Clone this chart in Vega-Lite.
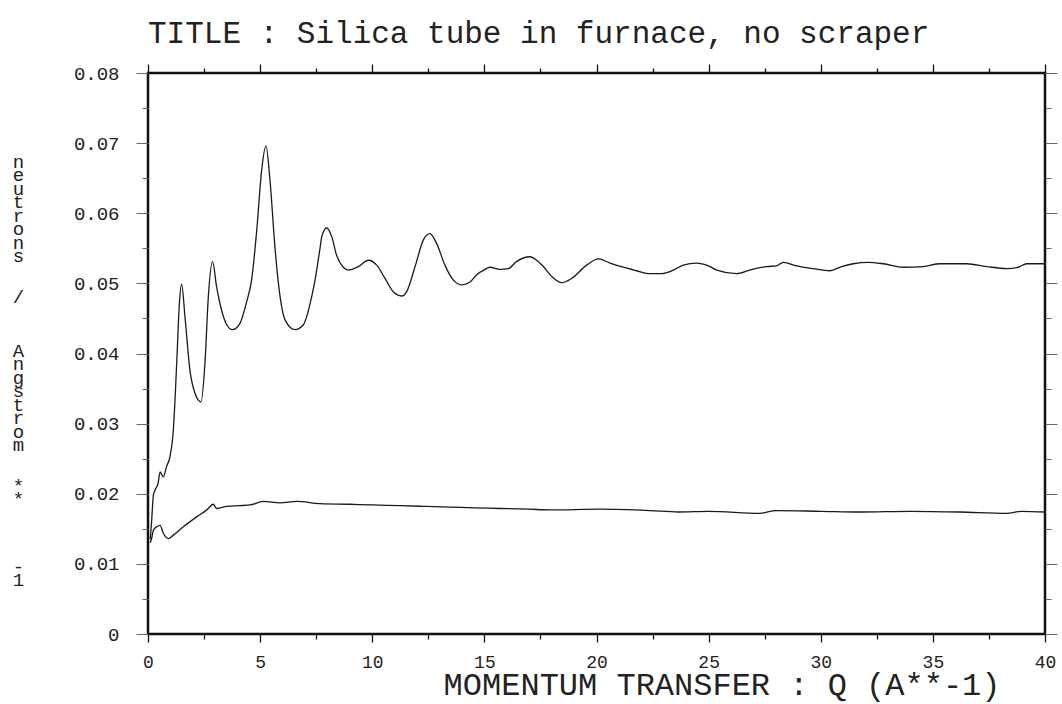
{
  "$schema": "https://vega.github.io/schema/vega-lite/v6.json",
  "width": 897,
  "height": 561,
  "autosize": {"type": "none"},
  "padding": {"left": 148, "top": 73, "right": 17, "bottom": 70},
  "background": "white",
  "config": {
    "view": {"stroke": "#111", "strokeWidth": 2.5},
    "font": "Liberation Mono"
  },
  "title": {
    "text": "TITLE : Silica tube in furnace, no scraper",
    "anchor": "start",
    "frame": "group",
    "font": "Liberation Mono",
    "fontSize": 31,
    "fontWeight": "normal",
    "color": "#222",
    "baseline": "alphabetic",
    "offset": 0,
    "dy": 11
  },
  "data": {
    "values": [
      {"series": "sample", "q": 0.10, "v": 0.0135},
      {"series": "sample", "q": 0.16, "v": 0.0160},
      {"series": "sample", "q": 0.24, "v": 0.0198},
      {"series": "sample", "q": 0.31, "v": 0.0205},
      {"series": "sample", "q": 0.45, "v": 0.0215},
      {"series": "sample", "q": 0.54, "v": 0.0231},
      {"series": "sample", "q": 0.68, "v": 0.0224},
      {"series": "sample", "q": 0.83, "v": 0.0239},
      {"series": "sample", "q": 0.98, "v": 0.0253},
      {"series": "sample", "q": 1.13, "v": 0.0291},
      {"series": "sample", "q": 1.28, "v": 0.0386},
      {"series": "sample", "q": 1.40, "v": 0.0472},
      {"series": "sample", "q": 1.50, "v": 0.0499},
      {"series": "sample", "q": 1.65, "v": 0.0452},
      {"series": "sample", "q": 1.87, "v": 0.0376},
      {"series": "sample", "q": 2.10, "v": 0.0343},
      {"series": "sample", "q": 2.36, "v": 0.0331},
      {"series": "sample", "q": 2.54, "v": 0.0386},
      {"series": "sample", "q": 2.69, "v": 0.0481},
      {"series": "sample", "q": 2.88, "v": 0.0531},
      {"series": "sample", "q": 3.06, "v": 0.0495},
      {"series": "sample", "q": 3.28, "v": 0.0462},
      {"series": "sample", "q": 3.51, "v": 0.0441},
      {"series": "sample", "q": 3.77, "v": 0.0434},
      {"series": "sample", "q": 4.10, "v": 0.0443},
      {"series": "sample", "q": 4.40, "v": 0.0474},
      {"series": "sample", "q": 4.62, "v": 0.0505},
      {"series": "sample", "q": 4.85, "v": 0.0576},
      {"series": "sample", "q": 5.07, "v": 0.0662},
      {"series": "sample", "q": 5.26, "v": 0.0696},
      {"series": "sample", "q": 5.44, "v": 0.0647},
      {"series": "sample", "q": 5.66, "v": 0.0552},
      {"series": "sample", "q": 5.89, "v": 0.0481},
      {"series": "sample", "q": 6.11, "v": 0.0448},
      {"series": "sample", "q": 6.56, "v": 0.0434},
      {"series": "sample", "q": 6.93, "v": 0.0441},
      {"series": "sample", "q": 7.08, "v": 0.0453},
      {"series": "sample", "q": 7.30, "v": 0.0481},
      {"series": "sample", "q": 7.45, "v": 0.0505},
      {"series": "sample", "q": 7.67, "v": 0.0550},
      {"series": "sample", "q": 7.75, "v": 0.0567},
      {"series": "sample", "q": 7.97, "v": 0.0579},
      {"series": "sample", "q": 8.19, "v": 0.0567},
      {"series": "sample", "q": 8.41, "v": 0.0540},
      {"series": "sample", "q": 8.71, "v": 0.0523},
      {"series": "sample", "q": 8.93, "v": 0.0519},
      {"series": "sample", "q": 9.38, "v": 0.0524},
      {"series": "sample", "q": 9.83, "v": 0.0533},
      {"series": "sample", "q": 10.20, "v": 0.0526},
      {"series": "sample", "q": 10.57, "v": 0.0507},
      {"series": "sample", "q": 10.94, "v": 0.0488},
      {"series": "sample", "q": 11.31, "v": 0.0482},
      {"series": "sample", "q": 11.53, "v": 0.0488},
      {"series": "sample", "q": 11.91, "v": 0.0524},
      {"series": "sample", "q": 12.28, "v": 0.0562},
      {"series": "sample", "q": 12.57, "v": 0.0571},
      {"series": "sample", "q": 12.87, "v": 0.0557},
      {"series": "sample", "q": 13.24, "v": 0.0526},
      {"series": "sample", "q": 13.61, "v": 0.0505},
      {"series": "sample", "q": 13.98, "v": 0.0498},
      {"series": "sample", "q": 14.36, "v": 0.0502},
      {"series": "sample", "q": 14.65, "v": 0.0512},
      {"series": "sample", "q": 15.03, "v": 0.0520},
      {"series": "sample", "q": 15.25, "v": 0.0523},
      {"series": "sample", "q": 15.70, "v": 0.0520},
      {"series": "sample", "q": 16.07, "v": 0.0521},
      {"series": "sample", "q": 16.43, "v": 0.0531},
      {"series": "sample", "q": 17.03, "v": 0.0538},
      {"series": "sample", "q": 17.33, "v": 0.0533},
      {"series": "sample", "q": 17.63, "v": 0.0524},
      {"series": "sample", "q": 18.00, "v": 0.0510},
      {"series": "sample", "q": 18.45, "v": 0.0501},
      {"series": "sample", "q": 18.89, "v": 0.0507},
      {"series": "sample", "q": 19.56, "v": 0.0526},
      {"series": "sample", "q": 20.08, "v": 0.0535},
      {"series": "sample", "q": 20.60, "v": 0.0529},
      {"series": "sample", "q": 21.19, "v": 0.0523},
      {"series": "sample", "q": 21.79, "v": 0.0518},
      {"series": "sample", "q": 22.31, "v": 0.0514},
      {"series": "sample", "q": 22.91, "v": 0.0514},
      {"series": "sample", "q": 23.43, "v": 0.0519},
      {"series": "sample", "q": 23.87, "v": 0.0526},
      {"series": "sample", "q": 24.47, "v": 0.0529},
      {"series": "sample", "q": 24.99, "v": 0.0525},
      {"series": "sample", "q": 25.36, "v": 0.0519},
      {"series": "sample", "q": 26.25, "v": 0.0514},
      {"series": "sample", "q": 26.84, "v": 0.0519},
      {"series": "sample", "q": 27.59, "v": 0.0524},
      {"series": "sample", "q": 28.03, "v": 0.0525},
      {"series": "sample", "q": 28.33, "v": 0.0530},
      {"series": "sample", "q": 28.92, "v": 0.0525},
      {"series": "sample", "q": 29.67, "v": 0.0521},
      {"series": "sample", "q": 30.41, "v": 0.0518},
      {"series": "sample", "q": 30.93, "v": 0.0524},
      {"series": "sample", "q": 31.45, "v": 0.0528},
      {"series": "sample", "q": 32.12, "v": 0.0530},
      {"series": "sample", "q": 32.79, "v": 0.0528},
      {"series": "sample", "q": 33.68, "v": 0.0523},
      {"series": "sample", "q": 34.57, "v": 0.0524},
      {"series": "sample", "q": 35.32, "v": 0.0528},
      {"series": "sample", "q": 35.91, "v": 0.0528},
      {"series": "sample", "q": 36.51, "v": 0.0528},
      {"series": "sample", "q": 37.40, "v": 0.0524},
      {"series": "sample", "q": 38.29, "v": 0.0521},
      {"series": "sample", "q": 38.81, "v": 0.0523},
      {"series": "sample", "q": 39.18, "v": 0.0528},
      {"series": "sample", "q": 40.00, "v": 0.0528},
      {"series": "container", "q": 0.10, "v": 0.0130},
      {"series": "container", "q": 0.16, "v": 0.0136},
      {"series": "container", "q": 0.24, "v": 0.0148},
      {"series": "container", "q": 0.39, "v": 0.0153},
      {"series": "container", "q": 0.54, "v": 0.0155},
      {"series": "container", "q": 0.68, "v": 0.0144},
      {"series": "container", "q": 0.91, "v": 0.0136},
      {"series": "container", "q": 1.13, "v": 0.0141},
      {"series": "container", "q": 1.58, "v": 0.0153},
      {"series": "container", "q": 2.17, "v": 0.0167},
      {"series": "container", "q": 2.62, "v": 0.0177},
      {"series": "container", "q": 2.91, "v": 0.0185},
      {"series": "container", "q": 3.06, "v": 0.0179},
      {"series": "container", "q": 3.51, "v": 0.0182},
      {"series": "container", "q": 4.10, "v": 0.0183},
      {"series": "container", "q": 4.55, "v": 0.0184},
      {"series": "container", "q": 5.14, "v": 0.0189},
      {"series": "container", "q": 5.89, "v": 0.0187},
      {"series": "container", "q": 6.63, "v": 0.0189},
      {"series": "container", "q": 7.67, "v": 0.0186},
      {"series": "container", "q": 9.01, "v": 0.0185},
      {"series": "container", "q": 10.00, "v": 0.0184},
      {"series": "container", "q": 11.24, "v": 0.0183},
      {"series": "container", "q": 12.30, "v": 0.0182},
      {"series": "container", "q": 13.47, "v": 0.0181},
      {"series": "container", "q": 14.50, "v": 0.0180},
      {"series": "container", "q": 15.70, "v": 0.0179},
      {"series": "container", "q": 17.00, "v": 0.0178},
      {"series": "container", "q": 17.93, "v": 0.0177},
      {"series": "container", "q": 20.16, "v": 0.0178},
      {"series": "container", "q": 22.39, "v": 0.0176},
      {"series": "container", "q": 23.65, "v": 0.0174},
      {"series": "container", "q": 25.00, "v": 0.0175},
      {"series": "container", "q": 27.29, "v": 0.0172},
      {"series": "container", "q": 28.00, "v": 0.0176},
      {"series": "container", "q": 30.00, "v": 0.0175},
      {"series": "container", "q": 31.75, "v": 0.0174},
      {"series": "container", "q": 34.00, "v": 0.0175},
      {"series": "container", "q": 36.21, "v": 0.0174},
      {"series": "container", "q": 38.29, "v": 0.0172},
      {"series": "container", "q": 38.95, "v": 0.0175},
      {"series": "container", "q": 40.00, "v": 0.0174}
    ]
  },
  "layer": [
    {
      "mark": {"type": "line", "color": "#1a1a1a", "strokeWidth": 1.3, "clip": true, "interpolate": "monotone"},
      "encoding": {
        "detail": {"field": "series", "type": "nominal"},
        "x": {
          "field": "q", "type": "quantitative",
          "scale": {"domain": [0, 40], "nice": false, "zero": false},
          "axis": {
            "orient": "bottom",
            "values": [0, 2.5, 5, 7.5, 10, 12.5, 15, 17.5, 20, 22.5, 25, 27.5, 30, 32.5, 35, 37.5, 40],
            "labelExpr": "datum.value % 5 === 0 ? format(datum.value, 'd') : ''",
            "domain": false,
            "grid": false,
            "tickColor": "#111",
            "tickWidth": 1.3,
            "tickSize": {"condition": {"test": "datum.value % 5 === 0", "value": 8}, "value": 5},
            "labelFont": "Liberation Mono",
            "labelFontSize": 18,
            "labelColor": "#222",
            "labelPadding": 11,
            "labelFlush": false,
            "labelOverlap": false,
            "title": "MOMENTUM TRANSFER : Q (A**-1)",
            "titleFont": "Liberation Mono",
            "titleFontSize": 32,
            "titleFontWeight": "normal",
            "titleColor": "#222",
            "titleAnchor": "start",
            "titleAlign": "right",
            "titleBaseline": "alphabetic",
            "titleX": 852,
            "titleY": 60
          }
        },
        "y": {
          "field": "v", "type": "quantitative",
          "scale": {"domain": [0, 0.08], "nice": false},
          "axis": {
            "orient": "left",
            "values": [0, 0.005, 0.01, 0.015, 0.02, 0.025, 0.03, 0.035, 0.04, 0.045, 0.05, 0.055, 0.06, 0.065, 0.07, 0.075, 0.08],
            "labelExpr": "round(datum.value * 1000) % 10 === 0 ? (datum.value === 0 ? '0' : format(datum.value, '.2f')) : ''",
            "domain": false,
            "grid": false,
            "tickColor": "#666",
            "tickWidth": 1,
            "tickSize": {"condition": {"test": "round(datum.value * 1000) % 10 === 0", "value": 12}, "value": 6},
            "labelFont": "Liberation Mono",
            "labelFontSize": 19,
            "labelColor": "#222",
            "labelPadding": 17,
            "labelFlush": false,
            "labelOverlap": false,
            "title": ["n", "e", "u", "t", "r", "o", "n", "s", "\u200b", "\u200b", "/", "\u200b", "\u200b", "\u200b", "A", "n", "g", "s", "t", "r", "o", "m", "\u200b", "\u200b", "*", "*", "\u200b", "\u200b", "\u200b", "\u200b", "-", "1"],
            "titleFont": "Liberation Mono",
            "titleFontSize": 19,
            "titleFontWeight": "normal",
            "titleColor": "#222",
            "titleAngle": 0,
            "titleAlign": "center",
            "titleBaseline": "top",
            "titleLineHeight": 13.5,
            "titleX": -130,
            "titleY": 79
          }
        }
      }
    },
    {
      "mark": {"type": "line", "strokeOpacity": 0},
      "encoding": {
        "detail": {"field": "series", "type": "nominal"},
        "x": {
          "field": "q", "type": "quantitative",
          "axis": {
            "orient": "top",
            "values": [0, 2.5, 5, 7.5, 10, 12.5, 15, 17.5, 20, 22.5, 25, 27.5, 30, 32.5, 35, 37.5, 40],
            "labels": false,
            "domain": false,
            "grid": false,
            "title": null,
            "tickColor": "#111",
            "tickWidth": 1.3,
            "tickSize": {"condition": {"test": "datum.value % 5 === 0", "value": 9}, "value": 5}
          }
        },
        "y": {
          "field": "v", "type": "quantitative",
          "axis": {
            "orient": "right",
            "values": [0, 0.005, 0.01, 0.015, 0.02, 0.025, 0.03, 0.035, 0.04, 0.045, 0.05, 0.055, 0.06, 0.065, 0.07, 0.075, 0.08],
            "labels": false,
            "domain": false,
            "grid": false,
            "title": null,
            "tickColor": "#666",
            "tickWidth": 1,
            "tickSize": {"condition": {"test": "round(datum.value * 1000) % 10 === 0", "value": 12}, "value": 6}
          }
        }
      }
    }
  ],
  "resolve": {"axis": {"x": "independent", "y": "independent"}}
}
